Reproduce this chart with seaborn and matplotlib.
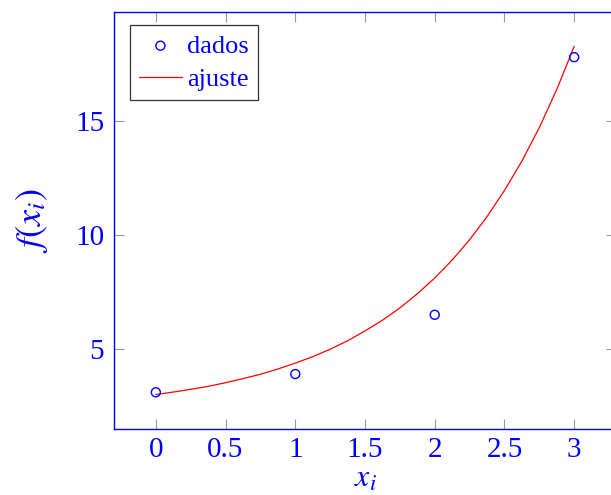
import numpy as np
import pandas as pd
import matplotlib
matplotlib.use("Agg")
import matplotlib.pyplot as plt
import seaborn as sns

# measured data points
x_dados = [0, 1, 2, 3]
y_dados = [3.1, 3.9, 6.5, 17.8]

# fitted curve, sampled every 0.125
x_ajuste = [0.0, 0.125, 0.25, 0.375, 0.5, 0.625, 0.75, 0.875, 1.0,
            1.125, 1.25, 1.375, 1.5, 1.625, 1.75, 1.875, 2.0,
            2.125, 2.25, 2.375, 2.5, 2.625, 2.75, 2.875, 3.0]
y_ajuste = [3.00, 3.11, 3.23, 3.36, 3.52, 3.70, 3.89, 4.12, 4.38,
            4.66, 4.99, 5.36, 5.79, 6.26, 6.80, 7.42, 8.11,
            8.90, 9.79, 10.80, 11.95, 13.24, 14.71, 16.38, 18.27]

x_ticks = [0, 0.5, 1, 1.5, 2, 2.5, 3]
x_ticklabels = ["0", "0.5", "1", "1.5", "2", "2.5", "3"]
y_ticks = [5, 10, 15]
y_ticklabels = ["5", "10", "15"]

sns.set_style("white")
plt.rcParams["font.family"] = ["Liberation Serif", "DejaVu Serif"]
plt.rcParams["mathtext.fontset"] = "stix"

blue = "#0000ff"
red = "#ff0000"

df_dados = pd.DataFrame({"x": x_dados, "y": y_dados})
df_ajuste = pd.DataFrame({"x": x_ajuste, "y": y_ajuste})

fig = plt.figure(figsize=(6.11, 4.95), dpi=100)
ax = fig.add_axes([114 / 611, 66 / 495, 502 / 611, 417 / 495])

sns.scatterplot(data=df_dados, x="x", y="y", ax=ax, marker="o", s=42,
                facecolor="none", edgecolor=blue, linewidth=1.0,
                label="dados", zorder=3)
sns.lineplot(data=df_ajuste, x="x", y="y", ax=ax, color=red,
             linewidth=0.9, label="ajuste", zorder=2)

ax.set_xlim(-0.3, 3.3)
ax.set_ylim(1.49, 19.78)

ax.set_xticks(x_ticks)
ax.set_xticklabels(x_ticklabels)
ax.set_yticks(y_ticks)
ax.set_yticklabels(y_ticklabels)

ax.tick_params(axis="both", which="major", direction="in", length=7,
               width=0.8, color="#999999", labelcolor=blue, labelsize=21,
               top=True, right=True, bottom=True, left=True)
ax.tick_params(axis="x", pad=6)
ax.tick_params(axis="y", pad=7)

for side in ["left", "right", "top", "bottom"]:
    ax.spines[side].set_visible(True)
    ax.spines[side].set_color(blue)
    ax.spines[side].set_linewidth(1.0)

ax.set_xlabel(r"$x_i$", color=blue, fontsize=23, labelpad=1)
ax.set_ylabel(r"$f(x_i)$", color=blue, fontsize=26, labelpad=18)

leg = ax.legend(loc="upper left", bbox_to_anchor=(0.032, 0.969),
                borderaxespad=0, fontsize=19, frameon=True, fancybox=False,
                framealpha=1, edgecolor="#333333", handlelength=1.6,
                handletextpad=0.2, labelspacing=0.38, borderpad=0.35)
leg.get_frame().set_linewidth(0.9)
for t in leg.get_texts():
    t.set_color(blue)

fig.savefig("out.png", dpi=100)
